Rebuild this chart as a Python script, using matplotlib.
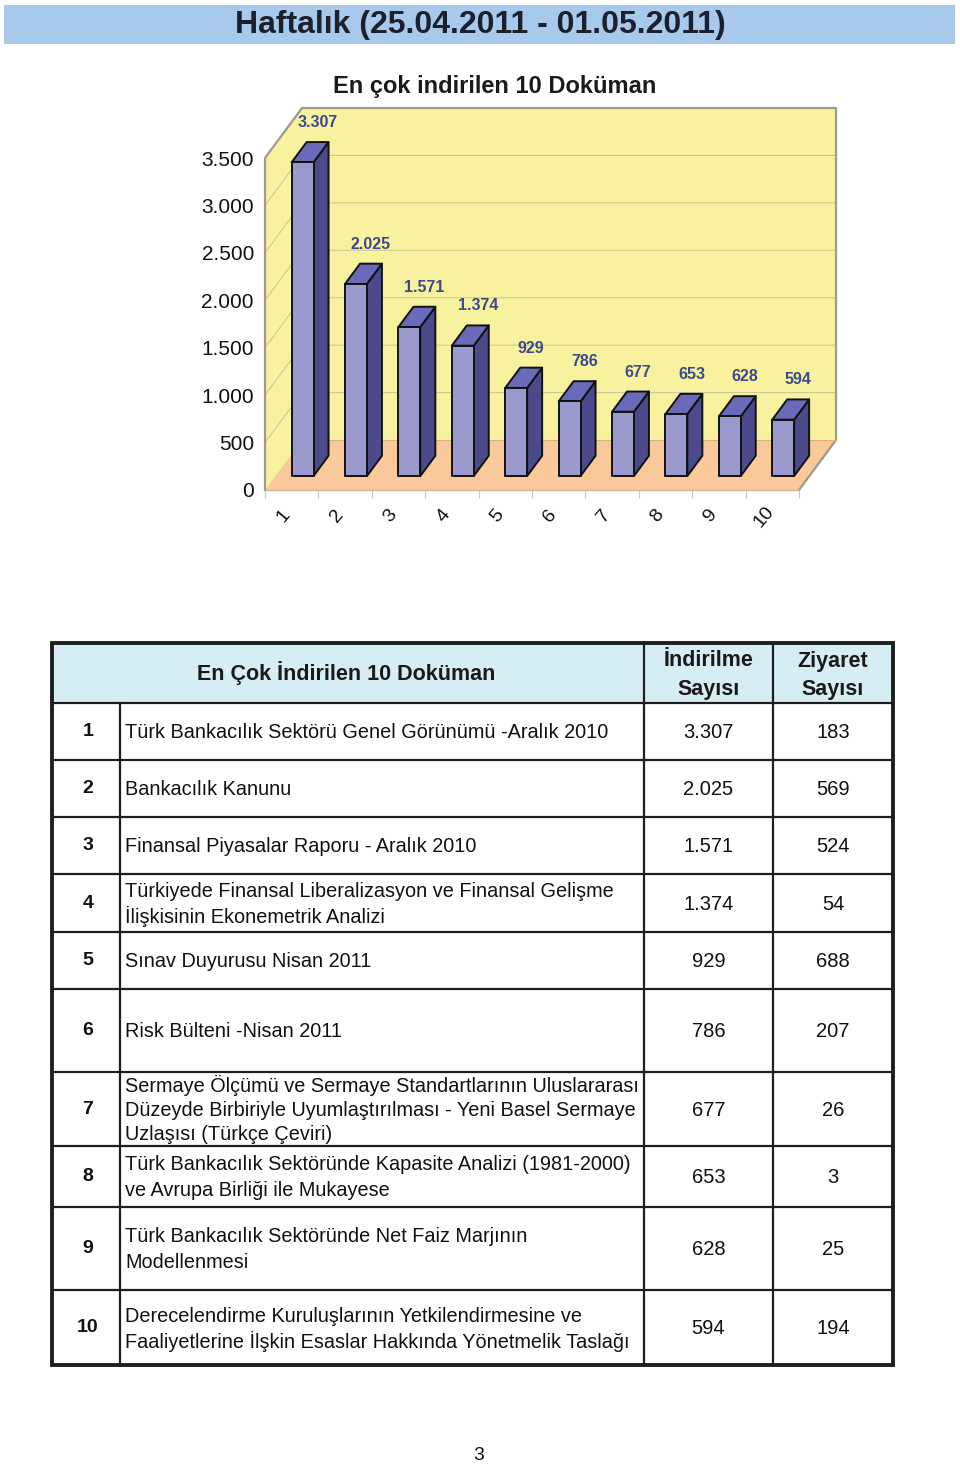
import matplotlib
matplotlib.use("Agg")
import matplotlib.pyplot as plt
from matplotlib.patches import Polygon, Rectangle

plt.rcParams['font.family'] = ['Liberation Sans', 'DejaVu Sans']

# ---------------- data ----------------
categories = ['1', '2', '3', '4', '5', '6', '7', '8', '9', '10']
downloads = [3307, 2025, 1571, 1374, 929, 786, 677, 653, 628, 594]
visits = [183, 569, 524, 54, 688, 207, 26, 3, 25, 194]
documents = [
    "Türk Bankacılık Sektörü Genel Görünümü -Aralık 2010",
    "Bankacılık Kanunu",
    "Finansal Piyasalar Raporu - Aralık 2010",
    "Türkiyede Finansal Liberalizasyon ve Finansal Gelişme\nİlişkisinin Ekonemetrik Analizi",
    "Sınav Duyurusu Nisan 2011",
    "Risk Bülteni -Nisan 2011",
    "Sermaye Ölçümü ve Sermaye Standartlarının Uluslararası\nDüzeyde Birbiriyle Uyumlaştırılması - Yeni Basel Sermaye\nUzlaşısı (Türkçe Çeviri)",
    "Türk Bankacılık Sektöründe Kapasite Analizi (1981-2000)\nve Avrupa Birliği ile Mukayese",
    "Türk Bankacılık Sektöründe Net Faiz Marjının\nModellenmesi",
    "Derecelendirme Kuruluşlarının Yetkilendirmesine ve\nFaaliyetlerine İlşkin Esaslar Hakkında Yönetmelik Taslağı",
]
y_ticks = [0, 500, 1000, 1500, 2000, 2500, 3000, 3500]


def fmt(v):
    return f"{v:,}".replace(",", ".")


W, H = 960, 1467
fig = plt.figure(figsize=(W / 100, H / 100), dpi=100)

# ---------------- overlay (page) ----------------
page = fig.add_axes([0, 0, 1, 1])
page.set_xlim(0, W)
page.set_ylim(H, 0)
page.axis('off')

page.add_patch(Rectangle((4, 5), 951, 39, facecolor='#a6c9ec', edgecolor='none'))
page.text(480, 25, "Haftalık (25.04.2011 - 01.05.2011)", ha='center', va='center',
          fontsize=23, fontweight='bold', color='#1b1f2e')
page.text(495, 86, "En çok indirilen 10 Doküman", ha='center', va='center',
          fontsize=17, fontweight='bold', color='#1a1a1a')

# ---------------- 3D-style bar chart ----------------
ax = fig.add_axes([265 / W, 1 - 490 / H, 534 / W, 332 / H])
ax.set_xlim(0, len(categories))
ax.set_ylim(0, 3500)
ax.patch.set_alpha(0)
for s in ax.spines.values():
    s.set_visible(False)

DX, DY = 0.693, 527.0   # depth projection (category units, value units)
YMAX = y_ticks[-1]
N = len(categories)


def P(x, v, d):
    return (x + DX * d, v + DY * d)


wall_c = '#f8f29e'
floor_c = '#f9c999'
edge_c = '#9c9c8c'
grid_c = '#cdc89a'

# back wall
ax.add_patch(Polygon([P(0, 0, 1), P(N, 0, 1), P(N, YMAX, 1), P(0, YMAX, 1)],
                     closed=True, facecolor=wall_c, edgecolor='none', clip_on=False, zorder=1))
# left wall
ax.add_patch(Polygon([P(0, 0, 0), P(0, 0, 1), P(0, YMAX, 1), P(0, YMAX, 0)],
                     closed=True, facecolor=wall_c, edgecolor='none', clip_on=False, zorder=1))
# floor
ax.add_patch(Polygon([P(0, 0, 0), P(N, 0, 0), P(N, 0, 1), P(0, 0, 1)],
                     closed=True, facecolor=floor_c, edgecolor='none', clip_on=False, zorder=1))
# gridlines
for v in y_ticks[1:-1]:
    a, b, c = P(0, v, 0), P(0, v, 1), P(N, v, 1)
    ax.plot([a[0], b[0], c[0]], [a[1], b[1], c[1]], color=grid_c, lw=0.8,
            clip_on=False, zorder=2)
# wall edges
outline = [P(0, 0, 0), P(0, YMAX, 0), P(0, YMAX, 1), P(N, YMAX, 1), P(N, 0, 1), P(N, 0, 0)]
ax.plot([p[0] for p in outline], [p[1] for p in outline], color=edge_c, lw=1.6,
        clip_on=False, zorder=2)
bl = [P(0, 0, 1), P(N, 0, 1)]
ax.plot([p[0] for p in bl], [p[1] for p in bl], color='#d8b07a', lw=0.8, clip_on=False, zorder=2)
ax.plot([0, N], [0, 0], color='#c8b8a8', lw=1.0, clip_on=False, zorder=2)

# bars
x0o, x1o, d0, d1 = 0.305, 0.715, 0.28, 0.685
front_c, side_c, top_c = '#9a9acf', '#4b4b8b', '#6a6abb'
for i, v in enumerate(downloads):
    x0, x1 = i + x0o, i + x1o
    front = [P(x0, 0, d0), P(x1, 0, d0), P(x1, v, d0), P(x0, v, d0)]
    side = [P(x1, 0, d0), P(x1, 0, d1), P(x1, v, d1), P(x1, v, d0)]
    top = [P(x0, v, d0), P(x1, v, d0), P(x1, v, d1), P(x0, v, d1)]
    for poly, col in ((side, side_c), (top, top_c), (front, front_c)):
        ax.add_patch(Polygon(poly, closed=True, facecolor=col, edgecolor='#111111',
                             lw=1.4, joinstyle='round', clip_on=False, zorder=3))
    lx, ly = P((x0 + x1) / 2, v, d1)
    ax.annotate(fmt(v), xy=(lx, ly), xytext=(0, 14), textcoords='offset points',
                ha='center', va='center', fontsize=11.5, fontweight='bold',
                color='#3a4a8c', zorder=4, annotation_clip=False)

# axes ticks
ax.set_yticks(y_ticks)
ax.set_yticklabels([fmt(v) for v in y_ticks], fontsize=15, color='#111111')
ax.tick_params(axis='y', length=0, pad=8)
ax.set_xticks(range(N + 1))
ax.set_xticklabels([])
ax.tick_params(axis='x', length=6, color='#c8c8c8', direction='out')
for i, c in enumerate(categories):
    ax.annotate(c, xy=(i + 0.5, 0), xytext=(-6, -19), textcoords='offset points',
                ha='center', va='center', rotation=50, fontsize=14, color='#111111',
                annotation_clip=False)

# ---------------- table ----------------
tx = [52, 120, 644, 773, 893]
row_edges = [643, 703, 760, 817, 874, 932, 989, 1072, 1146, 1207, 1290, 1365]
page.add_patch(Rectangle((tx[0], row_edges[0]), tx[-1] - tx[0], row_edges[1] - row_edges[0],
                         facecolor='#d7edf4', edgecolor='none', zorder=1))
line_c = '#1e1e1e'
for y in row_edges[1:-1]:
    page.plot([tx[0], tx[-1]], [y, y], color=line_c, lw=1.6, zorder=2)
page.plot([tx[1], tx[1]], [row_edges[1], row_edges[-1]], color=line_c, lw=1.6, zorder=2)
for x in tx[2:4]:
    page.plot([x, x], [row_edges[0], row_edges[-1]], color=line_c, lw=1.6, zorder=2)
page.add_patch(Rectangle((tx[0], row_edges[0]), tx[-1] - tx[0], row_edges[-1] - row_edges[0],
                         facecolor='none', edgecolor=line_c, lw=2.8, zorder=3))


def lines_text(x, yc, s, step, **kw):
    parts = s.split("\n")
    n = len(parts)
    for k, part in enumerate(parts):
        page.text(x, yc + (k - (n - 1) / 2) * step, part, va='center', **kw)


hy = (row_edges[0] + row_edges[1]) / 2
page.text((tx[0] + tx[2]) / 2 - 2, hy, "En Çok İndirilen 10 Doküman", ha='center', va='center',
          fontsize=15.5, fontweight='bold', color='#1a1a1a')
lines_text((tx[2] + tx[3]) / 2, hy + 2, "İndirilme\nSayısı", 28, ha='center',
           fontsize=15.5, fontweight='bold', color='#1a1a1a')
lines_text((tx[3] + tx[4]) / 2, hy + 2, "Ziyaret\nSayısı", 28, ha='center',
           fontsize=15.5, fontweight='bold', color='#1a1a1a')

for i in range(N):
    yc = (row_edges[i + 1] + row_edges[i + 2]) / 2
    page.text((tx[0] + tx[1]) / 2 + 2, yc, categories[i], ha='center', va='center',
              fontsize=14, fontweight='bold', color='#111111')
    lines_text(tx[1] + 5, yc + 1, documents[i], 25, ha='left', fontsize=14.3,
               color='#111111')
    page.text((tx[2] + tx[3]) / 2, yc + 1, fmt(downloads[i]), ha='center', va='center',
              fontsize=14.5, color='#111111')
    page.text((tx[3] + tx[4]) / 2, yc + 1, fmt(visits[i]), ha='center', va='center',
              fontsize=14.5, color='#111111')

page.text(479, 1456, "3", ha='center', va='center', fontsize=14, color='#111111')

fig.savefig("out.png", dpi=100)
